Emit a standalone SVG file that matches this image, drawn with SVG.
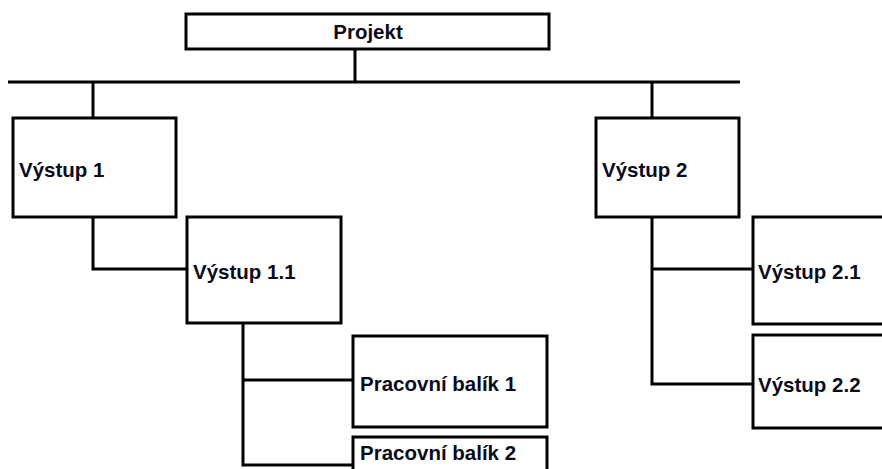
<svg xmlns="http://www.w3.org/2000/svg" width="882" height="469" viewBox="0 0 882 469">
<style>
.box{fill:#fff;stroke:#000;stroke-width:3}
.ln{fill:none;stroke:#000;stroke-width:3}
.t{font-family:"Liberation Sans",Arial,sans-serif;font-weight:bold;font-size:20.5px;fill:#0a0a1a}
</style>
<rect width="882" height="469" fill="#fff"/>
<g id="connectors">
<line class="ln" x1="355" y1="49" x2="355" y2="82"/>
<line class="ln" x1="8" y1="82" x2="740" y2="82"/>
<line class="ln" x1="93" y1="82" x2="93" y2="118"/>
<line class="ln" x1="652" y1="82" x2="652" y2="118"/>
<polyline class="ln" points="93,217 93,269 187,269"/>
<polyline class="ln" points="243,323 243,465 353,465"/>
<line class="ln" x1="243" y1="380" x2="353" y2="380"/>
<polyline class="ln" points="652,217 652,384 753,384"/>
<line class="ln" x1="652" y1="269" x2="753" y2="269"/>
</g>
<g id="projekt">
<rect class="box" x="186" y="14" width="363" height="35"/>
<text class="t" x="368" y="39" text-anchor="middle">Projekt</text>
</g>
<g id="vystup1">
<rect class="box" x="13" y="118" width="163" height="99"/>
<text class="t" x="19" y="177">Výstup 1</text>
</g>
<g id="vystup11">
<rect class="box" x="187" y="217" width="154" height="106"/>
<text class="t" x="193" y="279">Výstup 1.1</text>
</g>
<g id="balik1">
<rect class="box" x="353" y="336" width="194" height="91"/>
<text class="t" x="360" y="391">Pracovní balík 1</text>
</g>
<g id="balik2">
<rect class="box" x="353" y="437" width="194" height="50"/>
<text class="t" x="360" y="460">Pracovní balík 2</text>
</g>
<g id="vystup2">
<rect class="box" x="596" y="118" width="143" height="99"/>
<text class="t" x="602" y="177">Výstup 2</text>
</g>
<g id="vystup21">
<rect class="box" x="753" y="217" width="150" height="107"/>
<text class="t" x="758" y="279">Výstup 2.1</text>
</g>
<g id="vystup22">
<rect class="box" x="753" y="335" width="150" height="93"/>
<text class="t" x="758" y="392">Výstup 2.2</text>
</g>
</svg>
